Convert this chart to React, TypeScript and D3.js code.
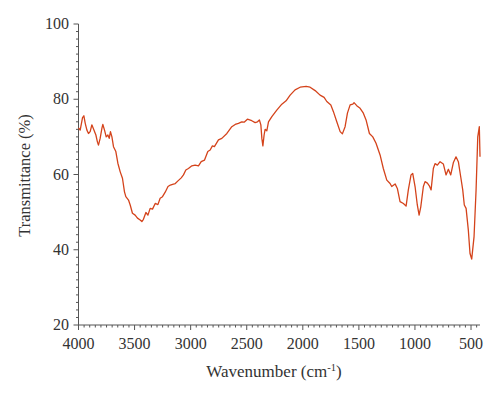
import React from 'react';
import * as d3 from 'd3';

// wavenumber (cm-1)
const wavenumbers = [
  4000, 3985, 3964, 3952, 3940, 3925, 3911, 3896, 3881, 3866, 3845, 3831, 3822, 3807, 3791, 3783,
  3768, 3753, 3738, 3726, 3715, 3702, 3688, 3667, 3649, 3628, 3608, 3590, 3578, 3554, 3539, 3519,
  3495, 3474, 3450, 3435, 3421, 3399, 3381, 3361, 3340, 3316, 3292, 3272, 3251, 3227, 3202, 3181,
  3161, 3137, 3113, 3084, 3064, 3043, 3020, 2989, 2960, 2930, 2906, 2877, 2847, 2826, 2806, 2788,
  2752, 2722, 2677, 2633, 2603, 2574, 2544, 2523, 2494, 2455, 2425, 2404, 2387, 2374, 2365, 2356,
  2345, 2336, 2321, 2306, 2276, 2232, 2187, 2149, 2113, 2069, 2024, 1970, 1935, 1890, 1846, 1810,
  1786, 1750, 1727, 1697, 1667, 1647, 1623, 1602, 1578, 1554, 1543, 1519, 1489, 1460, 1436, 1406,
  1376, 1347, 1311, 1282, 1251, 1222, 1207, 1177, 1157, 1133, 1103, 1079, 1059, 1035, 1020, 999,
  979, 963, 948, 925, 910, 889, 872, 856, 836, 821, 800, 776, 747, 723, 702, 681,
  658, 634, 613, 592, 574, 560, 544, 524, 509, 494, 473, 455, 440, 426, 420,
];

// transmittance (%) at each wavenumber
const transmittance = [
  72.4, 71.8, 75.1, 75.6, 73.6, 71.8, 70.9, 71.4, 73.2, 72.1, 70.5, 68.6, 67.8, 69.6, 72.3, 73.3,
  71.8, 70.0, 70.5, 69.6, 71.4, 70.0, 67.4, 66.1, 63.0, 60.7, 59.0, 55.4, 54.1, 53.2, 51.9, 49.7,
  49.2, 48.4, 47.9, 47.5, 48.1, 49.9, 49.2, 51.0, 50.8, 52.3, 52.0, 53.7, 54.1, 55.3, 56.8, 57.2,
  57.4, 57.6, 58.3, 59.1, 59.9, 61.2, 61.6, 62.3, 62.5, 62.3, 63.4, 63.8, 66.1, 66.5, 67.6, 67.4,
  69.2, 69.6, 70.9, 72.7, 73.3, 73.6, 74.0, 73.9, 74.7, 74.3, 73.8, 74.0, 74.5, 73.2, 69.6, 67.6,
  70.5, 72.0, 71.6, 74.0, 75.4, 77.1, 78.7, 79.6, 81.1, 82.5, 83.2, 83.4, 83.2, 82.3, 81.1, 80.5,
  79.4, 78.5, 76.7, 74.0, 71.4, 70.8, 72.7, 76.3, 78.5, 78.7, 79.1, 78.3, 77.6, 76.3, 74.5, 70.9,
  70.0, 68.3, 65.2, 61.6, 58.5, 57.6, 56.8, 57.5, 56.3, 52.8, 52.3, 51.6, 55.9, 59.9, 60.3, 56.8,
  51.9, 49.2, 51.4, 56.8, 58.1, 57.7, 57.0, 55.9, 61.6, 62.9, 62.5, 63.4, 62.8, 59.9, 61.4, 59.9,
  63.1, 64.7, 63.4, 59.4, 55.9, 51.9, 51.0, 45.2, 39.0, 37.5, 43.5, 55.9, 70.0, 72.7, 64.7,
];

const xTicks = [4000, 3500, 3000, 2500, 2000, 1500, 1000, 500];
const yTicks = [20, 40, 60, 80, 100];

const W = 500;
const H = 395;
const left = 78.5;
const right = 480;
const top = 24;
const bottom = 325;
const font = '"Liberation Serif", "DejaVu Serif", serif';
const axisColor = '#555';
const textColor = '#333';

const App = () => {
  const x = d3.scaleLinear().domain([4000, 420]).range([left, right]);
  const y = d3.scaleLinear().domain([20, 100]).range([bottom, top]);

  const points = wavenumbers.map((w, i) => [w, transmittance[i]] as [number, number]);
  const line = d3
    .line<[number, number]>()
    .x((d) => x(d[0]))
    .y((d) => y(d[1]));

  const xMinor = d3.range(4000, 420, -50).filter((v) => !xTicks.includes(v));
  const yMinor = d3.range(20, 100, 2).filter((v) => !yTicks.includes(v));

  return (
    <svg width={W} height={H} style={{ position: 'absolute', left: 0, top: 0, background: '#fff' }}>
      {/* axes */}
      <line x1={left} x2={left} y1={top} y2={bottom} stroke={axisColor} strokeWidth={1} />
      <line x1={left} x2={right} y1={bottom} y2={bottom} stroke={axisColor} strokeWidth={1} />

      {xTicks.map((t) => (
        <g key={'xt' + t}>
          <line x1={x(t)} x2={x(t)} y1={bottom} y2={bottom + 5} stroke={axisColor} />
          <text x={x(t)} y={349} textAnchor="middle" fontFamily={font} fontSize={16} fill={textColor}>
            {t}
          </text>
        </g>
      ))}
      {xMinor.map((t) => (
        <line key={'xm' + t} x1={x(t)} x2={x(t)} y1={bottom} y2={bottom + 2.5} stroke={axisColor} />
      ))}

      {yTicks.map((t) => (
        <g key={'yt' + t}>
          <line x1={left - 5} x2={left} y1={y(t)} y2={y(t)} stroke={axisColor} />
          <text x={69} y={y(t) + 5} textAnchor="end" fontFamily={font} fontSize={16} fill={textColor}>
            {t}
          </text>
        </g>
      ))}
      {yMinor.map((t) => (
        <line key={'ym' + t} x1={left - 2.5} x2={left} y1={y(t)} y2={y(t)} stroke={axisColor} />
      ))}

      {/* spectrum */}
      <path d={line(points) || ''} fill="none" stroke="#d4431b" strokeWidth={1.3} strokeLinejoin="round" />

      {/* axis titles */}
      <text
        transform={`translate(30, ${(top + bottom) / 2 + 1}) rotate(-90)`}
        textAnchor="middle"
        fontFamily={font}
        fontSize={16.5}
        fill={textColor}
      >
        Transmittance (%)
      </text>
      <text x={274} y={377} textAnchor="middle" fontFamily={font} fontSize={17} fill={textColor}>
        Wavenumber (cm
        <tspan fontSize={10.5} dy={-6}>-1</tspan>
        <tspan dy={6}>)</tspan>
      </text>
    </svg>
  );
};

export default App;
